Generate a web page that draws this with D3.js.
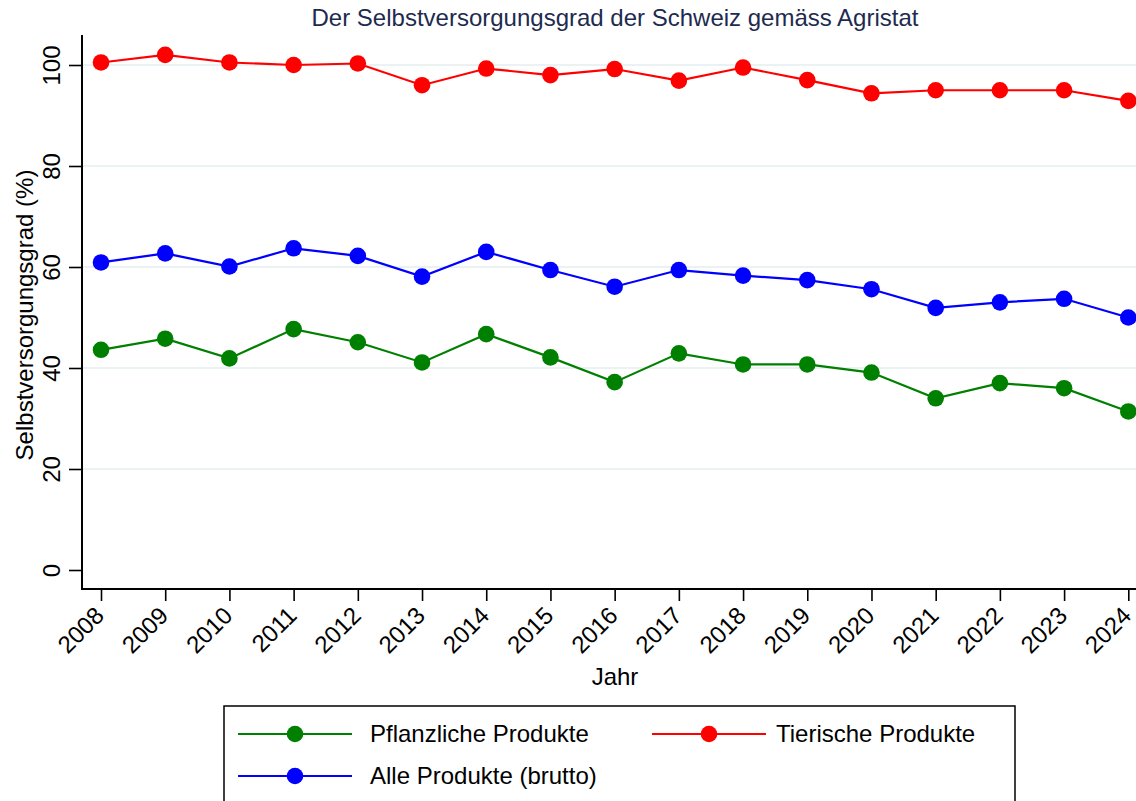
<!DOCTYPE html>
<html>
<head>
<meta charset="utf-8">
<script src="https://cdn.jsdelivr.net/npm/d3@7"></script>
<style>
  body { margin: 0; background: #fff; }
  svg { font-family: "Liberation Sans", Arial, sans-serif; }
</style>
</head>
<body>
<div id="chart"></div>
<script>
const width = 1136;
const height = 801;

// data
const years = [2008, 2009, 2010, 2011, 2012, 2013, 2014, 2015, 2016, 2017, 2018, 2019, 2020, 2021, 2022, 2023, 2024];
const pflanzlich = [43.6, 45.8, 41.9, 47.7, 45.1, 41.1, 46.7, 42.1, 37.2, 42.9, 40.7, 40.7, 39.1, 34.0, 37.0, 36.0, 31.4];
const tierisch = [100.5, 102.0, 100.5, 100.0, 100.3, 96.0, 99.3, 98.0, 99.2, 96.9, 99.5, 97.0, 94.4, 95.0, 95.0, 95.0, 92.9];
const alle = [60.9, 62.7, 60.1, 63.7, 62.2, 58.1, 63.0, 59.4, 56.1, 59.4, 58.3, 57.4, 55.6, 51.9, 53.0, 53.7, 50.0];
const yTicks = [0, 20, 40, 60, 80, 100];

const series = [
  { name: "Pflanzliche Produkte", values: pflanzlich, color: "#008000" },
  { name: "Tierische Produkte", values: tierisch, color: "#ff0000" },
  { name: "Alle Produkte (brutto)", values: alle, color: "#0000ff" }
];

const fontSize = "24px";

const svg = d3.select("#chart")
  .append("svg")
  .attr("width", width)
  .attr("height", height);

const axisX = 82;      // y axis position
const axisY = 589;     // x axis position

const x_scale = d3.scaleLinear().domain([2008, 2024]).range([101, 1128.3]);
const y_scale = d3.scaleLinear().domain([0, 100]).range([570, 65]);

// gridlines
svg.append("g")
  .selectAll("line")
  .data(yTicks.filter(d => d > 0))
  .enter()
  .append("line")
  .attr("x1", axisX)
  .attr("x2", width)
  .attr("y1", d => y_scale(d))
  .attr("y2", d => y_scale(d))
  .style("stroke", "#eaf2f3")
  .style("stroke-width", 2);

// y axis
const y_axis = d3.axisLeft(y_scale)
  .tickValues(yTicks)
  .tickSize(13)
  .tickFormat(d3.format("d"));

const yAxisGroup = svg.append("g")
  .attr("transform", "translate(" + axisX + ",0)")
  .call(y_axis);
yAxisGroup.select(".domain").remove();
yAxisGroup.append("line")
  .attr("x1", 0).attr("x2", 0)
  .attr("y1", 35).attr("y2", axisY + 1)
  .style("stroke", "#000")
  .style("stroke-width", 2);
yAxisGroup.selectAll(".tick line").style("stroke", "#000").style("stroke-width", 1.6);
yAxisGroup.selectAll(".tick text")
  .attr("x", 0).attr("y", 0).attr("dy", 0)
  .attr("transform", "translate(-22,0) rotate(-90)")
  .style("text-anchor", "middle")
  .style("font-size", fontSize)
  .style("fill", "#000");

// x axis
const x_axis = d3.axisBottom(x_scale)
  .tickValues(years)
  .tickSize(12)
  .tickFormat(d3.format("d"));

const xAxisGroup = svg.append("g")
  .attr("transform", "translate(0," + axisY + ")")
  .call(x_axis);
xAxisGroup.select(".domain").remove();
xAxisGroup.append("line")
  .attr("x1", axisX - 1).attr("x2", width)
  .attr("y1", 0).attr("y2", 0)
  .style("stroke", "#000")
  .style("stroke-width", 2);
xAxisGroup.selectAll(".tick line").style("stroke", "#000").style("stroke-width", 1.6);
xAxisGroup.selectAll(".tick text")
  .attr("x", 0).attr("y", 0).attr("dy", 0)
  .attr("transform", "translate(4,28) rotate(-45)")
  .style("text-anchor", "end")
  .style("font-size", fontSize)
  .style("fill", "#000");

// lines and points
const line = d3.line()
  .x((d, i) => x_scale(years[i]))
  .y(d => y_scale(d));

series.forEach(s => {
  svg.append("path")
    .datum(s.values)
    .attr("d", line)
    .style("fill", "none")
    .style("stroke", s.color)
    .style("stroke-width", 2.2);

  svg.append("g")
    .selectAll("circle")
    .data(s.values)
    .enter()
    .append("circle")
    .attr("cx", (d, i) => x_scale(years[i]))
    .attr("cy", d => y_scale(d))
    .attr("r", 8.3)
    .style("fill", s.color);
});

// titles
svg.append("text")
  .attr("x", 615)
  .attr("y", 26)
  .style("text-anchor", "middle")
  .style("font-size", fontSize)
  .style("fill", "#1e2b4f")
  .text("Der Selbstversorgungsgrad der Schweiz gemäss Agristat");

svg.append("text")
  .attr("transform", "translate(33,315) rotate(-90)")
  .style("text-anchor", "middle")
  .style("font-size", fontSize)
  .style("fill", "#000")
  .text("Selbstversorgungsgrad (%)");

svg.append("text")
  .attr("x", 615)
  .attr("y", 685)
  .style("text-anchor", "middle")
  .style("font-size", fontSize)
  .style("fill", "#000")
  .text("Jahr");

// legend
svg.append("rect")
  .attr("x", 224)
  .attr("y", 706)
  .attr("width", 791)
  .attr("height", 110)
  .style("fill", "#fff")
  .style("stroke", "#000")
  .style("stroke-width", 1.5);

const legendPos = [
  { x: 238, y: 734 },
  { x: 652, y: 734 },
  { x: 238, y: 776 }
];

const legend = svg.selectAll(".legend")
  .data(series)
  .enter()
  .append("g")
  .attr("class", "legend")
  .attr("transform", (d, i) => "translate(" + legendPos[i].x + "," + legendPos[i].y + ")");

legend.append("line")
  .attr("x1", 0).attr("x2", 114)
  .attr("y1", 0).attr("y2", 0)
  .style("stroke", d => d.color)
  .style("stroke-width", 2.2);

legend.append("circle")
  .attr("cx", 57)
  .attr("cy", 0)
  .attr("r", 8.3)
  .style("fill", d => d.color);

legend.append("text")
  .attr("x", (d, i) => i === 1 ? 124 : 132)
  .attr("y", 0)
  .attr("dy", "0.35em")
  .style("font-size", fontSize)
  .style("fill", "#000")
  .text(d => d.name);
</script>
</body>
</html>
